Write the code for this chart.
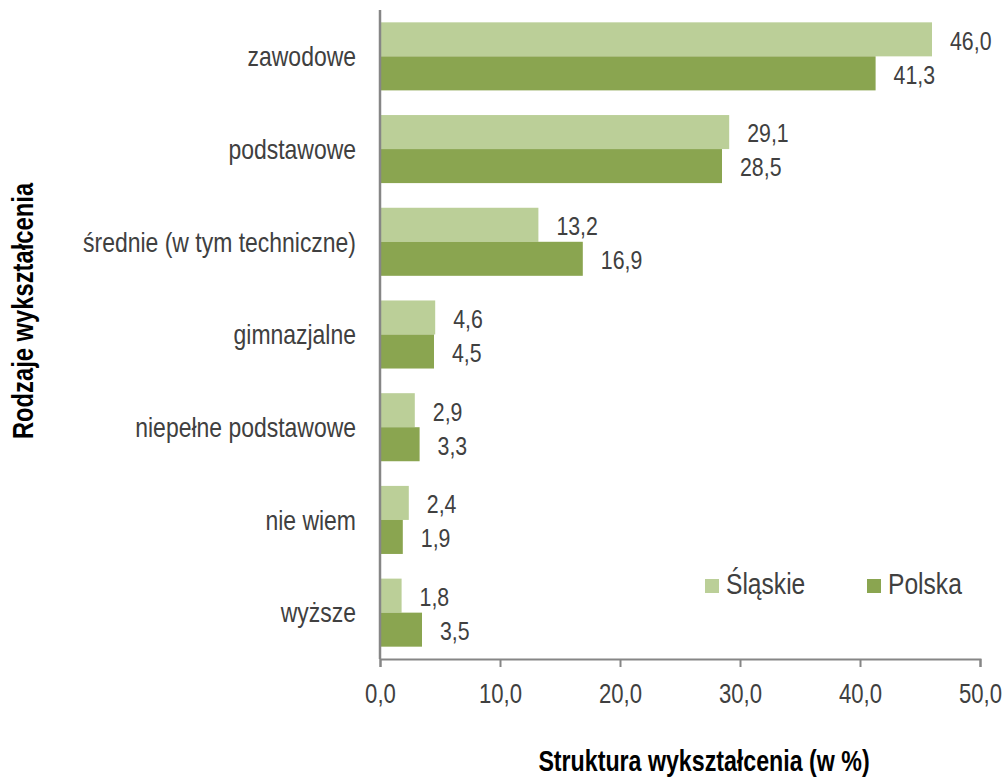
<!DOCTYPE html>
<html>
<head>
<meta charset="utf-8">
<script src="https://cdn.jsdelivr.net/npm/d3@7"></script>
<style>
  body { margin: 0; background: #fff; }
  text { font-family: "Liberation Sans", Arial, sans-serif; }
  .title { font-weight: bold; }
</style>
</head>
<body>
<div id="chart"></div>
<script>
const categories = [
  "zawodowe",
  "podstawowe",
  "średnie (w tym techniczne)",
  "gimnazjalne",
  "niepełne podstawowe",
  "nie wiem",
  "wyższe",
];
const seriesNames = ["Śląskie", "Polska"];
const slaskie = [46.0, 29.1, 13.2, 4.6, 2.9, 2.4, 1.8];
const polska = [41.3, 28.5, 16.9, 4.5, 3.3, 1.9, 3.5];
const xTicks = [0, 10, 20, 30, 40, 50];

const colors = ["#bbcf98", "#8aa550"];
const width = 1008,
  height = 778;
const margin = { top: 10, right: 28, bottom: 119, left: 380 };
// the original uses a narrow face; squeeze the regular one to mimic it
const narrow = 0.82;

const svg = d3
  .select("#chart")
  .append("svg")
  .attr("width", width)
  .attr("height", height);

const x = d3
  .scaleLinear()
  .domain([0, 50])
  .range([margin.left, width - margin.right]);

const y = d3
  .scaleBand()
  .domain(categories)
  .range([margin.top, height - margin.bottom])
  .paddingInner(0.266)
  .paddingOuter(0.133);

const ySub = d3
  .scaleBand()
  .domain(seriesNames)
  .range([0, y.bandwidth()]);

const rows = categories.map((c, i) => ({
  cat: c,
  vals: [
    { s: seriesNames[0], v: slaskie[i] },
    { s: seriesNames[1], v: polska[i] },
  ],
}));

const fmt = (d) => d.toFixed(1).replace(".", ",");

const groups = svg
  .selectAll(".grp")
  .data(rows)
  .enter()
  .append("g")
  .attr("class", "grp")
  .attr("transform", (d) => `translate(0,${y(d.cat)})`);

groups
  .selectAll("rect")
  .data((d) => d.vals)
  .enter()
  .append("rect")
  .attr("x", x(0))
  .attr("y", (d) => ySub(d.s))
  .attr("width", (d) => x(d.v) - x(0))
  .attr("height", ySub.bandwidth())
  .attr("fill", (d, i) => colors[i]);

groups
  .selectAll(".val")
  .data((d) => d.vals)
  .enter()
  .append("text")
  .attr("class", "val")
  .attr(
    "transform",
    (d) =>
      `translate(${x(d.v) + 18},${ySub(d.s) + ySub.bandwidth() / 2}) scale(${narrow},1)`
  )
  .attr("dy", "0.4em")
  .style("font-size", "26px")
  .style("fill", "#404040")
  .text((d) => fmt(d.v));

// category labels
svg
  .selectAll(".catLabel")
  .data(categories)
  .enter()
  .append("text")
  .attr("class", "catLabel")
  .attr(
    "transform",
    (d) => `translate(${margin.left - 24},${y(d) + y.bandwidth() / 2}) scale(${narrow},1)`
  )
  .attr("dy", "0.35em")
  .style("text-anchor", "end")
  .style("font-size", "28px")
  .style("fill", "#404040")
  .text((d) => d);

// y axis line
svg
  .append("line")
  .attr("x1", x(0))
  .attr("x2", x(0))
  .attr("y1", margin.top)
  .attr("y2", height - margin.bottom)
  .attr("stroke", "#868686")
  .attr("stroke-width", 2.5);

// x axis
const xAxis = svg
  .append("g")
  .attr("transform", `translate(0,${height - margin.bottom})`)
  .call(
    d3
      .axisBottom(x)
      .tickValues(xTicks)
      .tickFormat(fmt)
      .tickSize(8)
      .tickPadding(17)
  );
xAxis.select(".domain").attr("stroke", "#868686").attr("stroke-width", 2);
xAxis.selectAll(".tick line").attr("stroke", "#868686").attr("stroke-width", 2);
xAxis
  .selectAll(".tick text")
  .attr("transform", `scale(${narrow},1)`)
  .style("font-size", "27px")
  .style("fill", "#404040")
  .style("font-family", '"Liberation Sans", Arial, sans-serif');

// axis titles
svg
  .append("text")
  .attr("class", "title")
  .attr("transform", `translate(704,771) scale(0.8,1)`)
  .style("text-anchor", "middle")
  .style("font-size", "29px")
  .style("fill", "#000")
  .text("Struktura wykształcenia (w %)");

svg
  .append("text")
  .attr("class", "title")
  .attr("transform", `translate(33,311) rotate(-90) scale(${narrow},1)`)
  .style("text-anchor", "middle")
  .style("font-size", "29px")
  .style("fill", "#000")
  .text("Rodzaje wykształcenia");

// legend
const legend = svg
  .selectAll(".legend")
  .data(seriesNames)
  .enter()
  .append("g")
  .attr("class", "legend")
  .attr("transform", (d, i) => `translate(${705 + i * 162},579)`);

legend
  .append("rect")
  .attr("width", 14)
  .attr("height", 14)
  .attr("fill", (d, i) => colors[i]);

legend
  .append("text")
  .attr("transform", `translate(21,15) scale(${narrow},1)`)
  .style("font-size", "30px")
  .style("fill", "#404040")
  .text((d) => d);
</script>
</body>
</html>
